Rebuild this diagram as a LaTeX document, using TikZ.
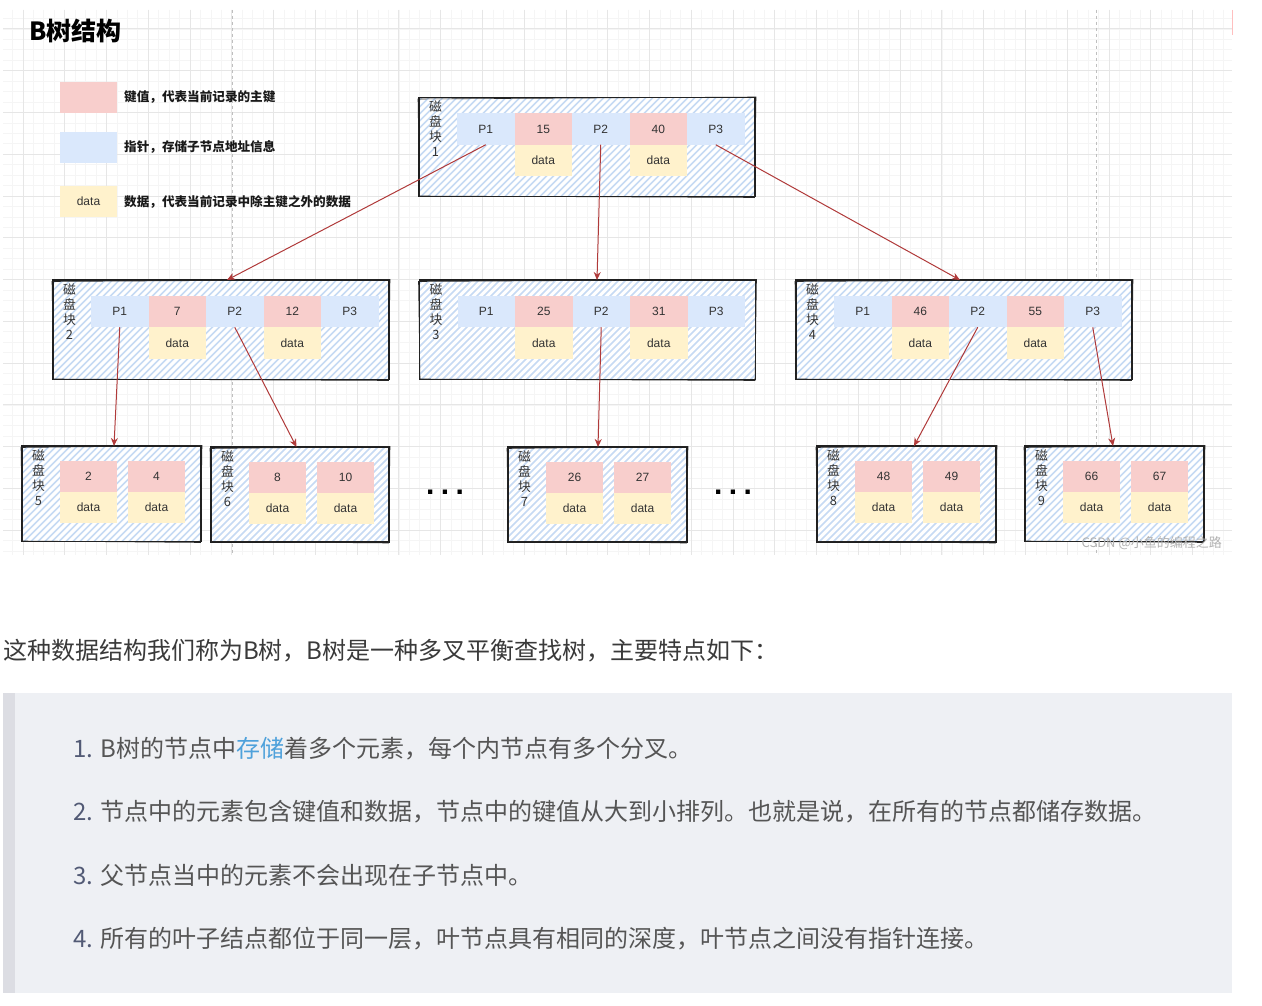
\documentclass[tikz,border=0pt]{standalone}
\usepackage{fontspec}
\setmainfont{Liberation Sans}
\newfontfamily\cjk{Noto Sans CJK SC}
\usetikzlibrary{arrows.meta,calc}
\definecolor{keyc}{HTML}{F8CECC}
\definecolor{ptrc}{HTML}{DAE8FC}
\definecolor{datc}{HTML}{FFF2CC}
\definecolor{hatchc}{HTML}{C6DAF3}
\definecolor{arrc}{HTML}{B03A3A}
\definecolor{txt}{HTML}{333333}
\definecolor{gridmin}{HTML}{F5F5F5}
\definecolor{gridmaj}{HTML}{E6E6E6}
\definecolor{quotebg}{HTML}{EEF0F4}
\definecolor{quotebar}{HTML}{DCDDE3}
\definecolor{introtxt}{HTML}{3A3A3A}
\definecolor{bodytxt}{HTML}{555555}
\definecolor{numtxt}{HTML}{525A75}
\definecolor{linkc}{HTML}{4EA1DB}
\tikzset{
  cellbase/.style={inner sep=0, outer sep=0, minimum width=57.5, minimum height=31.5,
    font=\fontsize{12}{14}\selectfont, text=txt},
  pcell/.style={cellbase, fill=ptrc},
  kcell/.style={cellbase, fill=keyc},
  dcell/.style={cellbase, fill=datc},
  leafcell/.style={minimum width=57, minimum height=31},
  frame/.style={draw=black!88, line width=1.5, inner sep=0, outer sep=0},
  hatch/.style={hatchc, line width=1.6},
  vlabel/.style={font=\cjk\fontsize{12.8}{15}\selectfont, align=center, inner sep=0, text=txt, anchor=north},
  link/.style={draw=arrc, line width=1, -{Stealth[length=8pt,width=7pt]}},
  legtxt/.style={anchor=west, inner sep=0, font=\cjk\bfseries\fontsize{12.6}{14}\selectfont, text=black!90},
  bodyline/.style={anchor=base west, inner sep=0, font=\cjk\fontsize{24}{28}\selectfont, text=bodytxt},
  dots/.style={anchor=base, inner sep=0, font=\bfseries\fontsize{30}{32}\selectfont},
  gridminor/.style={gridmin, line width=0.8},
  gridmajor/.style={gridmaj, line width=1},
  pageline/.style={black!25, line width=0.8, dash pattern=on 3pt off 3pt}
}
\newcommand\hatchbox[4]{%
  \begin{scope}
    \clip (#1,#2) rectangle (#3,#4);
    \fill[white] (#1,#2) rectangle (#3,#4);
    \foreach \k in {0,7,...,460} \draw[hatch] ({#1-112+\k},{#4+2}) -- ++(122,-122);
  \end{scope}}
\newcommand\disk[6]{%
  \hatchbox{#2}{#3}{#4}{#5}
  \node[frame, minimum width={#4-#2}, minimum height={#5-#3}] (#1) at ({(#2+#4)/2},{(#3+#5)/2}) {};
  \draw[black!85, line width=0.6] ({#2-1},{#3+1.5}) -- ({#4+1},{#3-0.5}) -- ({#4-0.5},{#5+1}) -- ({#2+0.5},{#5-0.5}) -- cycle;
  \node[vlabel] (#1l) at ({#2+16.5},{#3+3.5}) {磁\\盘\\块\\#6};
}
\newcommand\inode[5]{%
  \node[pcell] (#1p1) at ({#2+66.75},{#3+31.5}) {P1};
  \node[kcell] (#1k1) at ({#2+124.25},{#3+31.5}) {#4};
  \node[pcell] (#1p2) at ({#2+181.75},{#3+31.5}) {P2};
  \node[kcell] (#1k2) at ({#2+239.25},{#3+31.5}) {#5};
  \node[pcell] (#1p3) at ({#2+296.75},{#3+31.5}) {P3};
  \node[dcell] (#1d1) at ({#2+124.25},{#3+63}) {data};
  \node[dcell] (#1d2) at ({#2+239.25},{#3+63}) {data};
}
\newcommand\leaf[5]{%
  \node[kcell, leafcell] (#1k1) at ({#2+66.5},{#3+30.5}) {#4};
  \node[kcell, leafcell] (#1k2) at ({#2+134.5},{#3+30.5}) {#5};
  \node[dcell, leafcell] (#1d1) at ({#2+66.5},{#3+61.5}) {data};
  \node[dcell, leafcell] (#1d2) at ({#2+134.5},{#3+61.5}) {data};
}
\begin{document}
\begin{tikzpicture}[x=1pt,y=-1pt]
\useasboundingbox (0,0) rectangle (1262,1006);
\fill[white] (0,0) rectangle (1262,1006);
% grid
\foreach \j in {-1,...,115} \draw[gridminor] ({23+10.4425*\j},10) -- ({23+10.4425*\j},555);
\foreach \j in {-1,...,50} \draw[gridminor] (3,{29+10.4425*\j}) -- (1232,{29+10.4425*\j});
\foreach \j in {0,...,28} \draw[gridmajor] ({23+41.77*\j},10) -- ({23+41.77*\j},555);
\foreach \j in {0,...,12} \draw[gridmajor] (3,{29+41.77*\j}) -- (1232,{29+41.77*\j});
\draw[pageline] (232,10) -- (232,555);
\draw[pageline] (1096,10) -- (1096,555);
\draw[red!25, line width=1] (1232,10) -- (1232,35);
% title
\node[anchor=west, inner sep=0, font=\cjk\bfseries\fontsize{25}{28}\selectfont] (title) at (29,31) {B树结构};
% legend
\node[kcell, leafcell] (lk) at (88.5,97.5) {};
\node[pcell, leafcell] (lp) at (88.5,147.5) {};
\node[dcell, leafcell] (ld) at (88.5,201.5) {data};
\node[legtxt] (lkt) at (124,97.5) {键值，代表当前记录的主键};
\node[legtxt] (lpt) at (124,147.5) {指针，存储子节点地址信息};
\node[legtxt] (ldt) at (124,201.5) {数据，代表当前记录中除主键之外的数据};
% blocks
\disk{b1}{419}{97.5}{755}{196.5}{1}
\inode{b1}{419}{97.5}{15}{40}
\disk{b2}{53}{280}{389}{379.5}{2}
\inode{b2}{53}{280}{7}{12}
\disk{b3}{419.5}{280}{755.5}{379.5}{3}
\inode{b3}{419.5}{280}{25}{31}
\disk{b4}{796}{280}{1132}{379.5}{4}
\inode{b4}{796}{280}{46}{55}
\disk{b5}{22}{446}{201}{541.5}{5}
\leaf{b5}{22}{446}{2}{4}
\disk{b6}{211}{447}{389}{542}{6}
\leaf{b6}{211}{447}{8}{10}
\disk{b7}{508}{447}{687}{542}{7}
\leaf{b7}{508}{447}{26}{27}
\disk{b8}{817}{446}{996}{542}{8}
\leaf{b8}{817}{446}{48}{49}
\disk{b9}{1025}{446}{1204}{541.5}{9}
\leaf{b9}{1025}{446}{66}{67}
% ellipses
\node[dots] (dl) at (445,494) {.\hspace{6.5pt}.\hspace{6.5pt}.};
\node[dots] (dr) at (733,494) {.\hspace{6.5pt}.\hspace{6.5pt}.};
% connectors
\draw[link] (b1p1.south) -- ($(b2.north)+(6,0)$);
\draw[link] (b1p2.south) -- ($(b3.north)+(9.5,0)$);
\draw[link] (b1p3.south) -- ($(b4.north)+(-4,0)$);
\draw[link] (b2p1.south) -- ($(b5.north)+(2.5,0)$);
\draw[link] (b2p2.south) -- ($(b6.north)+(-3.5,0)$);
\draw[link] (b3p2.south) -- ($(b7.north)+(0.5,0)$);
\draw[link] (b4p2.south) -- ($(b8.north)+(7.5,0)$);
\draw[link] (b4p3.south) -- ($(b9.north)+(-1.5,0)$);
% watermark
\node[anchor=east, inner sep=0, font=\cjk\fontsize{13}{15}\selectfont, text=black!30] (wm) at (1222,543) {CSDN @小鱼的编程之路};
% body text
\node[bodyline, text=introtxt] (intro) at (3,659) {这种数据结构我们称为B树，B树是一种多叉平衡查找树，主要特点如下：};
\fill[quotebg] (3,693) rectangle (1232,993);
\fill[quotebar] (3,693) rectangle (15,993);
\node[bodyline] (i1) at (73,757) {\textcolor{numtxt}{1.} B树的节点中\textcolor{linkc}{存储}着多个元素，每个内节点有多个分叉。};
\node[bodyline] (i2) at (73,820) {\textcolor{numtxt}{2.} 节点中的元素包含键值和数据，节点中的键值从大到小排列。也就是说，在所有的节点都储存数据。};
\node[bodyline] (i3) at (73,884) {\textcolor{numtxt}{3.} 父节点当中的元素不会出现在子节点中。};
\node[bodyline] (i4) at (73,947) {\textcolor{numtxt}{4.} 所有的叶子结点都位于同一层，叶节点具有相同的深度，叶节点之间没有指针连接。};
\end{tikzpicture}
\end{document}
